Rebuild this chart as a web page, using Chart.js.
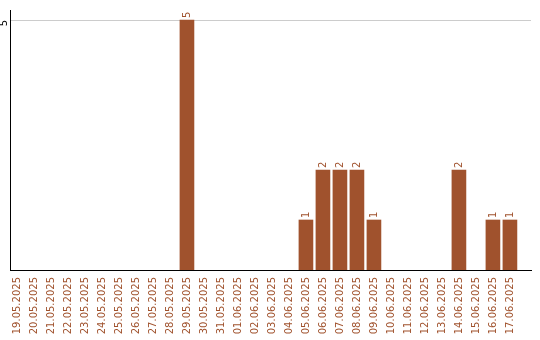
<!DOCTYPE html>
<html>
<head>
<meta charset="utf-8">
<script src="https://cdn.jsdelivr.net/npm/chart.js@4"></script>
<style>
html,body{margin:0;padding:0;background:#fff;}
#wrap{width:540px;height:340px;position:relative;}
</style>
</head>
<body>
<div id="wrap"><canvas id="c" width="540" height="340"></canvas></div>
<script>
const categories = ["19.05.2025","20.05.2025","21.05.2025","22.05.2025","23.05.2025","24.05.2025","25.05.2025","26.05.2025","27.05.2025","28.05.2025","29.05.2025","30.05.2025","31.05.2025","01.06.2025","02.06.2025","03.06.2025","04.06.2025","05.06.2025","06.06.2025","07.06.2025","08.06.2025","09.06.2025","10.06.2025","11.06.2025","12.06.2025","13.06.2025","14.06.2025","15.06.2025","16.06.2025","17.06.2025"];
const values = [0,0,0,0,0,0,0,0,0,0,5,0,0,0,0,0,0,1,2,2,2,1,0,0,0,0,2,0,1,1];
const yTicks = [5];

const BROWN = '#a0522d';
const FONT = '10px "DejaVu Sans"';

const labelPlugin = {
  id: 'labels',
  afterDatasetsDraw(chart) {
    const ctx = chart.ctx;
    const meta = chart.getDatasetMeta(0);
    ctx.save();
    ctx.font = FONT;
    ctx.fillStyle = BROWN;
    meta.data.forEach((bar, i) => {
      const v = values[i];
      if (!v) return;
      ctx.save();
      ctx.translate(bar.x + 0.5, bar.y - 2);
      ctx.rotate(-Math.PI / 2);
      ctx.textAlign = 'left';
      ctx.textBaseline = 'middle';
      ctx.fillText(String(v), 0, 0);
      ctx.restore();
    });
    const ys = chart.scales.y;
    ctx.fillStyle = '#000';
    yTicks.forEach(t => {
      ctx.save();
      ctx.translate(4.5, ys.getPixelForValue(t));
      ctx.rotate(-Math.PI / 2);
      ctx.textAlign = 'right';
      ctx.textBaseline = 'middle';
      ctx.fillText(String(t), 0, 0);
      ctx.restore();
    });
    ctx.restore();
  }
};

new Chart(document.getElementById('c'), {
  type: 'bar',
  data: {
    datasets: [{
      data: values.map((v, i) => ({x: i, y: v === 0 ? null : v})),
      backgroundColor: BROWN,
      borderWidth: 0,
      barThickness: 14
    }]
  },
  options: {
    responsive: false,
    animation: false,
    layout: {padding: {left: 10, top: 10, right: 9, bottom: 0}},
    plugins: {legend: {display: false}, tooltip: {enabled: false}},
    scales: {
      x: {
        type: 'linear',
        bounds: 'data',
        min: -0.41,
        max: 30.24,
        offset: false,
        afterBuildTicks: s => { s.ticks = categories.map((c, i) => ({value: i})); },
        afterFit: s => { s.height = 70; s.paddingLeft = 0; s.paddingRight = 0; },
        grid: {display: false, drawTicks: false, offset: false},
        border: {display: true, color: '#000', width: 1},
        ticks: {
          autoSkip: false,
          minRotation: 90,
          maxRotation: 90,
          padding: 7,
          color: BROWN,
          font: {family: 'DejaVu Sans', size: 10},
          callback: v => categories[v]
        }
      },
      y: {
        min: 0,
        max: 5.2,
        afterBuildTicks: s => { s.ticks = yTicks.map(v => ({value: v})); },
        afterFit: s => { s.width = 0; },
        grid: {display: true, color: '#cccccc', drawTicks: false},
        border: {display: true, color: '#000', width: 1},
        ticks: {display: false}
      }
    }
  },
  plugins: [labelPlugin]
});
</script>
</body>
</html>
